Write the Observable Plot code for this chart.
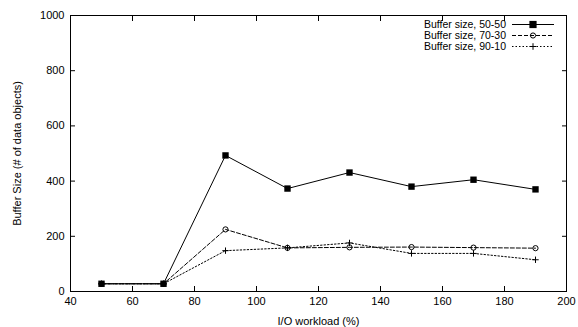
<!DOCTYPE html>
<html><head><meta charset="utf-8">
<script src="https://cdn.jsdelivr.net/npm/d3@7"></script>
<script src="https://cdn.jsdelivr.net/npm/@observablehq/plot@0.6"></script>
<style>body{margin:0;background:#fff}#c{position:relative;width:578px;height:327px}</style>
</head><body><div id="c"></div>
<script>
const workload = [50, 70, 90, 110, 130, 150, 170, 190];
const s5050 = [28, 28, 493, 373, 431, 380, 405, 370];
const s7030 = [28, 28, 225, 158, 160, 161, 159, 157];
const s9010 = [28, 28, 148, 158, 176, 138, 138, 115];
const seriesNames = ["Buffer size, 50-50", "Buffer size, 70-30", "Buffer size, 90-10"];
const xTicks = [40, 60, 80, 100, 120, 140, 160, 180, 200];
const yTicks = [0, 200, 400, 600, 800, 1000];

const styles = [
  {dash: null, symbol: "square", fill: "black", stroke: "none", r: 3.6},
  {dash: "4,2", symbol: "circle", fill: "none", stroke: "black", r: 2.6},
  {dash: "1.5,2", symbol: "plus", fill: "none", stroke: "black", r: 2.2}
];
const series = [s5050, s7030, s9010];
const data = [];
series.forEach((vals, i) => workload.forEach((w, j) => data.push({x: w, y: vals[j], s: seriesNames[i]})));

const font = "'Liberation Sans', Arial, Helvetica, sans-serif";
const marks = [Plot.frame({stroke: "black", strokeWidth: 1})];
seriesNames.forEach((name, i) => {
  const d = data.filter(e => e.s === name);
  const st = styles[i];
  marks.push(Plot.line(d, {x: "x", y: "y", stroke: "black", strokeWidth: 1, strokeDasharray: st.dash}));
  marks.push(Plot.dot(d, {x: "x", y: "y", symbol: () => st.symbol, fill: st.fill, stroke: st.stroke, r: st.r, strokeWidth: 1}));
});
const fmt = d3.format("d");
marks.push(
  Plot.axisX(xTicks, {anchor: "bottom", tickSize: 0, tickPadding: 6, fontSize: 11, tickFormat: fmt,
    label: "I/O workload (%)", labelAnchor: "center", labelArrow: "none", labelOffset: 33}),
  Plot.axisX(xTicks, {anchor: "bottom", tickSize: -5, tickFormat: () => "", label: null}),
  Plot.axisX(xTicks, {anchor: "top", tickSize: -5, tickFormat: () => "", label: null}),
  Plot.axisY(yTicks, {anchor: "left", tickSize: 0, tickPadding: 6, fontSize: 11, tickFormat: fmt,
    label: "Buffer Size (# of data objects)", labelAnchor: "center", labelArrow: "none", labelOffset: 57}),
  Plot.axisY(yTicks, {anchor: "left", tickSize: -5, tickFormat: () => "", label: null}),
  Plot.axisY(yTicks, {anchor: "right", tickSize: -5, tickFormat: () => "", label: null})
);

const chart = Plot.plot({
  width: 578, height: 327,
  marginLeft: 70, marginRight: 12, marginTop: 15, marginBottom: 36,
  style: {fontFamily: font, fontSize: "11px", color: "black", background: "white"},
  x: {domain: [40, 200]},
  y: {domain: [0, 1000]},
  marks
});
document.getElementById("c").appendChild(chart);

// legend inside top-right
const svg = d3.select(chart);
const g = svg.append("g").attr("font-family", font).attr("font-size", 10.5);
seriesNames.forEach((name, i) => {
  const y = 24.5 + i * 11;
  const st = styles[i];
  g.append("text").attr("x", 506).attr("y", y).attr("dy", "0.35em").attr("text-anchor", "end").text(name);
  g.append("line").attr("x1", 512).attr("x2", 554).attr("y1", y).attr("y2", y)
    .attr("stroke", "black").attr("stroke-dasharray", st.dash);
  g.append("path").attr("transform", `translate(533,${y})`)
    .attr("d", d3.symbol(st.symbol === "square" ? d3.symbolSquare : st.symbol === "circle" ? d3.symbolCircle : d3.symbolPlus, st.symbol === "square" ? 52 : st.symbol === "circle" ? 21 : 16)())
    .attr("fill", st.fill).attr("stroke", st.stroke);
});
</script></body></html>
